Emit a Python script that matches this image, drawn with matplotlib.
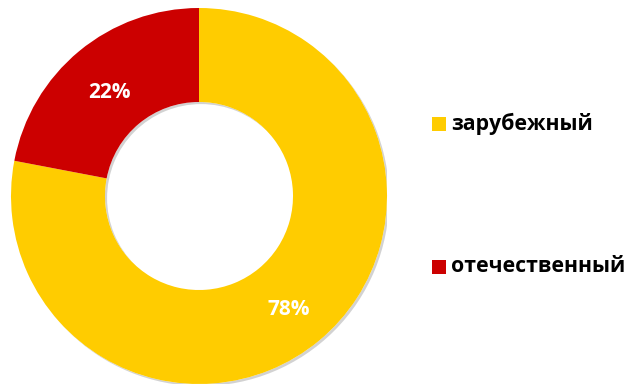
import matplotlib.pyplot as plt
from matplotlib.patches import Rectangle, Wedge
import matplotlib.patheffects as pe
import matplotlib.transforms as mtransforms

labels = ['зарубежный', 'отечественный']
values = [78, 22]
colors = ['#FFCC00', '#CC0000']

W, H = 629, 386
fig = plt.figure(figsize=(W / 100, H / 100), dpi=100)

# donut centre (199, 196) px, outer radius 188 px
cx, cy, r = 199, 196, 188
ax = fig.add_axes([(cx - r) / W, (H - cy - r) / H, 2 * r / W, 2 * r / H])

# soft shadow under the whole ring
ring = Wedge((0, 0), 1, 0, 360, width=0.5, facecolor='white', edgecolor='none', zorder=0)
ring.set_path_effects([pe.SimplePatchShadow(offset=(1.5, -1.5), alpha=0.25), pe.Normal()])
ax.add_patch(ring)

wedges, texts, autotexts = ax.pie(
    values, colors=colors, startangle=90, counterclock=False, radius=1,
    wedgeprops=dict(width=0.5, linewidth=0),
    autopct='%d%%', pctdistance=0.75,
    textprops=dict(color='white', fontsize=15, fontweight='bold', family='Open Sans'))
# nudge the percentage labels down a few pixels
shift = mtransforms.ScaledTranslation(0, -5 / 100, fig.dpi_scale_trans)
for t in autotexts:
    t.set_transform(t.get_transform() + shift)
ax.set_xlim(-1, 1)
ax.set_ylim(-1, 1)
ax.set_aspect('equal')
ax.axis('off')

# legend drawn by hand, square + label
leg_y = [124, 267]
for lab, col, y in zip(labels, colors, leg_y):
    fig.add_artist(Rectangle((432 / W, (H - y - 7) / H), 14 / W, 14 / H,
                             transform=fig.transFigure, facecolor=col, edgecolor='none'))
    fig.text(451 / W, (H - y) / H, lab, fontsize=15.3, fontweight='bold',
             family='Open Sans', va='center', ha='left', color='black')

fig.savefig('out.png', dpi=100)
